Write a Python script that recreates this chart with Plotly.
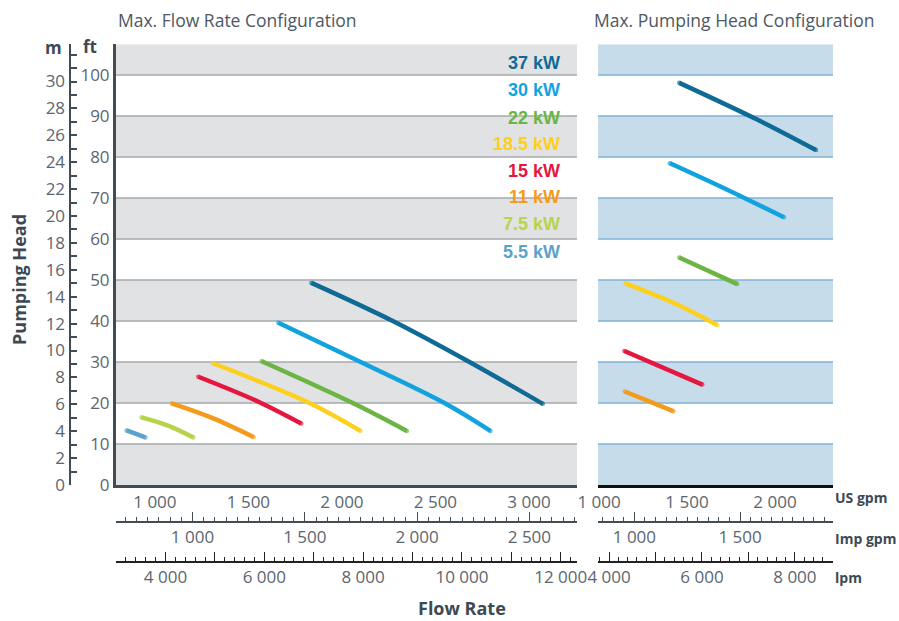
import plotly.graph_objects as go

W, H = 899, 621

# ---------------- data ----------------
motor_labels = ["37 kW", "30 kW", "22 kW", "18.5 kW", "15 kW", "11 kW", "7.5 kW", "5.5 kW"]
motor_colors = ["#0f6a96", "#12a3df", "#6cb443", "#fcd01c", "#e5173e", "#f49b1d", "#b6d44a", "#5ca3cb"]

# Max. Flow Rate Configuration (US gpm, ft)
flow_gpm = {
    "37 kW": [1837, 2272, 2682, 3074],
    "30 kW": [1660, 2100, 2548, 2794],
    "22 kW": [1571, 2058, 2347],
    "18.5 kW": [1311, 1826, 2099],
    "15 kW": [1232, 1559, 1782],
    "11 kW": [1090, 1309, 1527],
    "7.5 kW": [928, 1070, 1206],
    "5.5 kW": [849, 949],
}
flow_ft = {
    "37 kW": [49.3, 40.0, 30.0, 19.8],
    "30 kW": [39.6, 30.0, 20.0, 13.2],
    "22 kW": [30.2, 20.0, 13.2],
    "18.5 kW": [29.7, 20.0, 13.2],
    "15 kW": [26.4, 20.2, 15.0],
    "11 kW": [19.9, 16.3, 11.7],
    "7.5 kW": [16.5, 14.5, 11.6],
    "5.5 kW": [13.3, 11.6],
}

# Max. Pumping Head Configuration (US gpm, ft on the same vertical scale)
head_gpm = {
    "37 kW": [1456, 1896, 2233],
    "30 kW": [1403, 1726, 2051],
    "22 kW": [1456, 1786],
    "18.5 kW": [1150, 1441, 1672],
    "15 kW": [1144, 1587],
    "11 kW": [1146, 1422],
}
head_ft = {
    "37 kW": [98.1, 89.2, 81.7],
    "30 kW": [78.5, 72.1, 65.3],
    "22 kW": [55.5, 49.0],
    "18.5 kW": [49.2, 44.1, 39.0],
    "15 kW": [32.7, 24.5],
    "11 kW": [22.8, 18.0],
}

# axis ranges / ticks
ft_range = [0, 107.5]
ft_ticks = [0, 10, 20, 30, 40, 50, 60, 70, 80, 90, 100]
ft_ticklabels = ["0", "10", "20", "30", "40", "50", "60", "70", "80", "90", "100"]
m_ticks = [0, 2, 4, 6, 8, 10, 12, 14, 16, 18, 20, 22, 24, 26, 28, 30, 32]
m_ticklabels = ["0", "2", "4", "6", "8", "10", "12", "14", "16", "18", "20", "22", "24", "26", "28", "30", ""]

left_gpm_range = [792, 3257]
left_gpm_ticks = [1000, 1500, 2000, 2500, 3000]
left_gpm_labels = ["1 000", "1 500", "2 000", "2 500", "3 000"]
left_imp_ticks = [1000, 1500, 2000, 2500]
left_imp_labels = ["1 000", "1 500", "2 000", "2 500"]
left_lpm_ticks = [3000, 4000, 5000, 6000, 7000, 8000, 9000, 10000, 11000, 12000]
left_lpm_labels = ["", "4 000", "", "6 000", "", "8 000", "", "10 000", "", "12 000"]

right_gpm_range = [994, 2330]
right_gpm_ticks = [1000, 1500, 2000]
right_gpm_labels = ["1 000", "1 500", "2 000"]
right_imp_ticks = [1000, 1500]
right_imp_labels = ["1 000", "1 500"]
right_lpm_ticks = [4000, 5000, 6000, 7000, 8000]
right_lpm_labels = ["4 000", "", "6 000", "", "8 000"]

band_ranges = [(0, 10), (20, 30), (40, 50), (60, 70), (80, 90), (100, 107.5)]
grid_levels = [10, 20, 30, 40, 50, 60, 70, 80, 90, 100]

# unit conversions
GPM_TO_IMP = 1 / 1.20095
GPM_TO_LPM = 3.78541
FT_TO_M = 0.3048

# ---------------- styling helpers ----------------
def px(x):
    return x / W

def py(y):
    return 1 - y / H

TICK_FONT = dict(family="Open Sans", size=17, color="#5b6670")
BOLD = dict(family="Open Sans", size=17, color="#3e4953", weight="bold")
AXIS_DARK = "#414c55"

fig = go.Figure()

# curves
for lab, col in zip(motor_labels, motor_colors):
    if lab in flow_gpm:
        n = len(flow_gpm[lab])
        fig.add_trace(go.Scatter(
            x=flow_gpm[lab], y=flow_ft[lab], xaxis="x", yaxis="y",
            mode="lines+markers", line=dict(color=col, width=4.5, shape="spline", smoothing=1.0),
            marker=dict(color=col, size=[4.5] + [0] * (n - 2) + [4.5], line=dict(width=0)),
            showlegend=False, hoverinfo="skip"))
    if lab in head_gpm:
        n = len(head_gpm[lab])
        fig.add_trace(go.Scatter(
            x=head_gpm[lab], y=head_ft[lab], xaxis="x2", yaxis="y3",
            mode="lines+markers", line=dict(color=col, width=4.5, shape="spline", smoothing=1.0),
            marker=dict(color=col, size=[4.5] + [0] * (n - 2) + [4.5], line=dict(width=0)),
            showlegend=False, hoverinfo="skip"))

# dummy traces to register auxiliary axes
for xa, ya in [("x", "y2"), ("x3", "y"), ("x4", "y"), ("x5", "y3"), ("x6", "y3")]:
    fig.add_trace(go.Scatter(x=[None], y=[None], xaxis=xa, yaxis=ya, mode="markers",
                             showlegend=False, hoverinfo="skip"))

# bands and grid lines
shapes = []
for lo, hi in band_ranges:
    shapes.append(dict(type="rect", xref="x domain", yref="y", x0=0, x1=1, y0=lo, y1=hi,
                       fillcolor="#e1e2e4", line=dict(width=0), layer="below"))
    shapes.append(dict(type="rect", xref="x2 domain", yref="y3", x0=0, x1=1, y0=lo, y1=hi,
                       fillcolor="#c6dcea", line=dict(width=0), layer="below"))
for g in grid_levels:
    shapes.append(dict(type="line", xref="x domain", yref="y", x0=0, x1=1, y0=g, y1=g,
                       line=dict(color="#a6aaae", width=1.5), layer="below"))
    shapes.append(dict(type="line", xref="x2 domain", yref="y3", x0=0, x1=1, y0=g, y1=g,
                       line=dict(color="#7fb3d6", width=1.5), layer="below"))

ydom = [py(485), py(44.3)]
left_dom = [px(116), px(577)]
right_dom = [px(598), px(833)]

minor_style = dict(ticks="inside", ticklen=4, tickcolor=AXIS_DARK, tickwidth=1)
common = dict(showgrid=False, zeroline=False, automargin=False)

fig.update_layout(
    template="none",
    width=W, height=H,
    margin=dict(l=0, r=0, t=0, b=0, pad=0, autoexpand=False),
    paper_bgcolor="white", plot_bgcolor="white",
    showlegend=False,
    shapes=shapes,
    xaxis=dict(domain=left_dom, range=left_gpm_range, anchor="y",
               tickvals=left_gpm_ticks, ticktext=left_gpm_labels, ticks="",
               showline=True, linecolor=AXIS_DARK, linewidth=3,
               tickfont=TICK_FONT, **common),
    yaxis=dict(domain=ydom, range=ft_range, anchor="x",
               tickvals=ft_ticks, ticktext=ft_ticklabels, ticks="",
               showline=True, linecolor=AXIS_DARK, linewidth=3,
               tickfont=TICK_FONT, **common),
    yaxis2=dict(overlaying="y", anchor="free", position=px(69.5), side="left",
                range=[ft_range[0] * FT_TO_M, ft_range[1] * FT_TO_M],
                tickvals=m_ticks, ticktext=m_ticklabels, ticks="inside", ticklen=6,
                tickcolor=AXIS_DARK, tickwidth=1.5,
                minor=dict(dtick=1, tick0=0, ticks="inside", ticklen=6, tickcolor=AXIS_DARK, tickwidth=1.5),
                showline=True, linecolor=AXIS_DARK, linewidth=2,
                tickfont=TICK_FONT, **common),
    xaxis3=dict(overlaying="x", anchor="free", position=py(522), side="bottom",
                range=[left_gpm_range[0] * GPM_TO_IMP, left_gpm_range[1] * GPM_TO_IMP],
                tickvals=left_imp_ticks, ticktext=left_imp_labels,
                ticks="inside", ticklen=9, tickcolor=AXIS_DARK, tickwidth=1,
                minor=dict(dtick=50, tick0=0, **minor_style),
                showline=True, linecolor=AXIS_DARK, linewidth=2,
                tickfont=TICK_FONT, **common),
    xaxis4=dict(overlaying="x", anchor="free", position=py(562), side="bottom",
                range=[left_gpm_range[0] * GPM_TO_LPM, left_gpm_range[1] * GPM_TO_LPM],
                tickvals=left_lpm_ticks, ticktext=left_lpm_labels,
                ticks="inside", ticklen=9, tickcolor="#222", tickwidth=1,
                minor=dict(dtick=200, tick0=0, ticks="inside", ticklen=4, tickcolor="#222", tickwidth=1),
                showline=True, linecolor="#222", linewidth=2,
                tickfont=TICK_FONT, **common),
    xaxis2=dict(domain=right_dom, range=right_gpm_range, anchor="y3",
                tickvals=right_gpm_ticks, ticktext=right_gpm_labels, ticks="",
                showline=True, linecolor="#111", linewidth=3,
                tickfont=TICK_FONT, **common),
    yaxis3=dict(domain=ydom, range=ft_range, anchor="x2",
                showticklabels=False, ticks="", showline=False, **common),
    xaxis5=dict(overlaying="x2", anchor="free", position=py(522), side="bottom",
                range=[right_gpm_range[0] * GPM_TO_IMP, right_gpm_range[1] * GPM_TO_IMP],
                tickvals=right_imp_ticks, ticktext=right_imp_labels,
                ticks="inside", ticklen=9, tickcolor=AXIS_DARK, tickwidth=1,
                minor=dict(dtick=50, tick0=0, **minor_style),
                showline=True, linecolor=AXIS_DARK, linewidth=2,
                tickfont=TICK_FONT, **common),
    xaxis6=dict(overlaying="x2", anchor="free", position=py(562), side="bottom",
                range=[right_gpm_range[0] * GPM_TO_LPM, right_gpm_range[1] * GPM_TO_LPM],
                tickvals=right_lpm_ticks, ticktext=right_lpm_labels,
                ticks="inside", ticklen=9, tickcolor="#222", tickwidth=1,
                minor=dict(dtick=200, tick0=0, ticks="inside", ticklen=4, tickcolor="#222", tickwidth=1),
                showline=True, linecolor="#222", linewidth=2,
                tickfont=TICK_FONT, **common),
)

ann = []
ann.append(dict(text="Max. Flow Rate Configuration", x=px(116), y=py(20), xanchor="left", yanchor="middle",
                font=dict(family="Open Sans", size=17.5, color="#4d5862")))
ann.append(dict(text="Max. Pumping Head Configuration", x=px(592), y=py(20), xanchor="left", yanchor="middle",
                font=dict(family="Open Sans", size=17.5, color="#4d5862")))
legend_y = [63, 90, 118, 144, 171, 197, 224, 252]
for lab, col, yy in zip(motor_labels, motor_colors, legend_y):
    ann.append(dict(text="<b>" + lab + "</b>", x=px(562), y=py(yy), xanchor="right", yanchor="middle",
                    font=dict(family="Liberation Sans", size=18, color=col)))
ann.append(dict(text="<b>m</b>", x=px(53), y=py(47), xanchor="center", yanchor="middle", font=BOLD))
ann.append(dict(text="<b>ft</b>", x=px(90), y=py(46), xanchor="center", yanchor="middle", font=BOLD))
ann.append(dict(text="<b>Pumping Head</b>", x=px(19), y=py(280), xanchor="center", yanchor="middle",
                textangle=-90, font=dict(family="Open Sans", size=18, color="#3e4953")))
ann.append(dict(text="<b>Flow Rate</b>", x=px(462), y=py(608), xanchor="center", yanchor="middle",
                font=dict(family="Open Sans", size=18, color="#3e4953")))
ann.append(dict(text="<b>US gpm</b>", x=px(833), y=py(497), xanchor="left", yanchor="middle",
                font=dict(family="Open Sans", size=14, color="#3e4953")))
ann.append(dict(text="<b>Imp gpm</b>", x=px(833), y=py(538), xanchor="left", yanchor="middle",
                font=dict(family="Open Sans", size=14, color="#3e4953")))
ann.append(dict(text="<b>lpm</b>", x=px(833), y=py(577), xanchor="left", yanchor="middle",
                font=dict(family="Open Sans", size=14, color="#3e4953")))
for a in ann:
    a.update(xref="paper", yref="paper", showarrow=False)
fig.update_layout(annotations=ann)

fig.write_html("out.html", config={"displayModeBar": False},
               post_script="document.body.style.margin='0';")
